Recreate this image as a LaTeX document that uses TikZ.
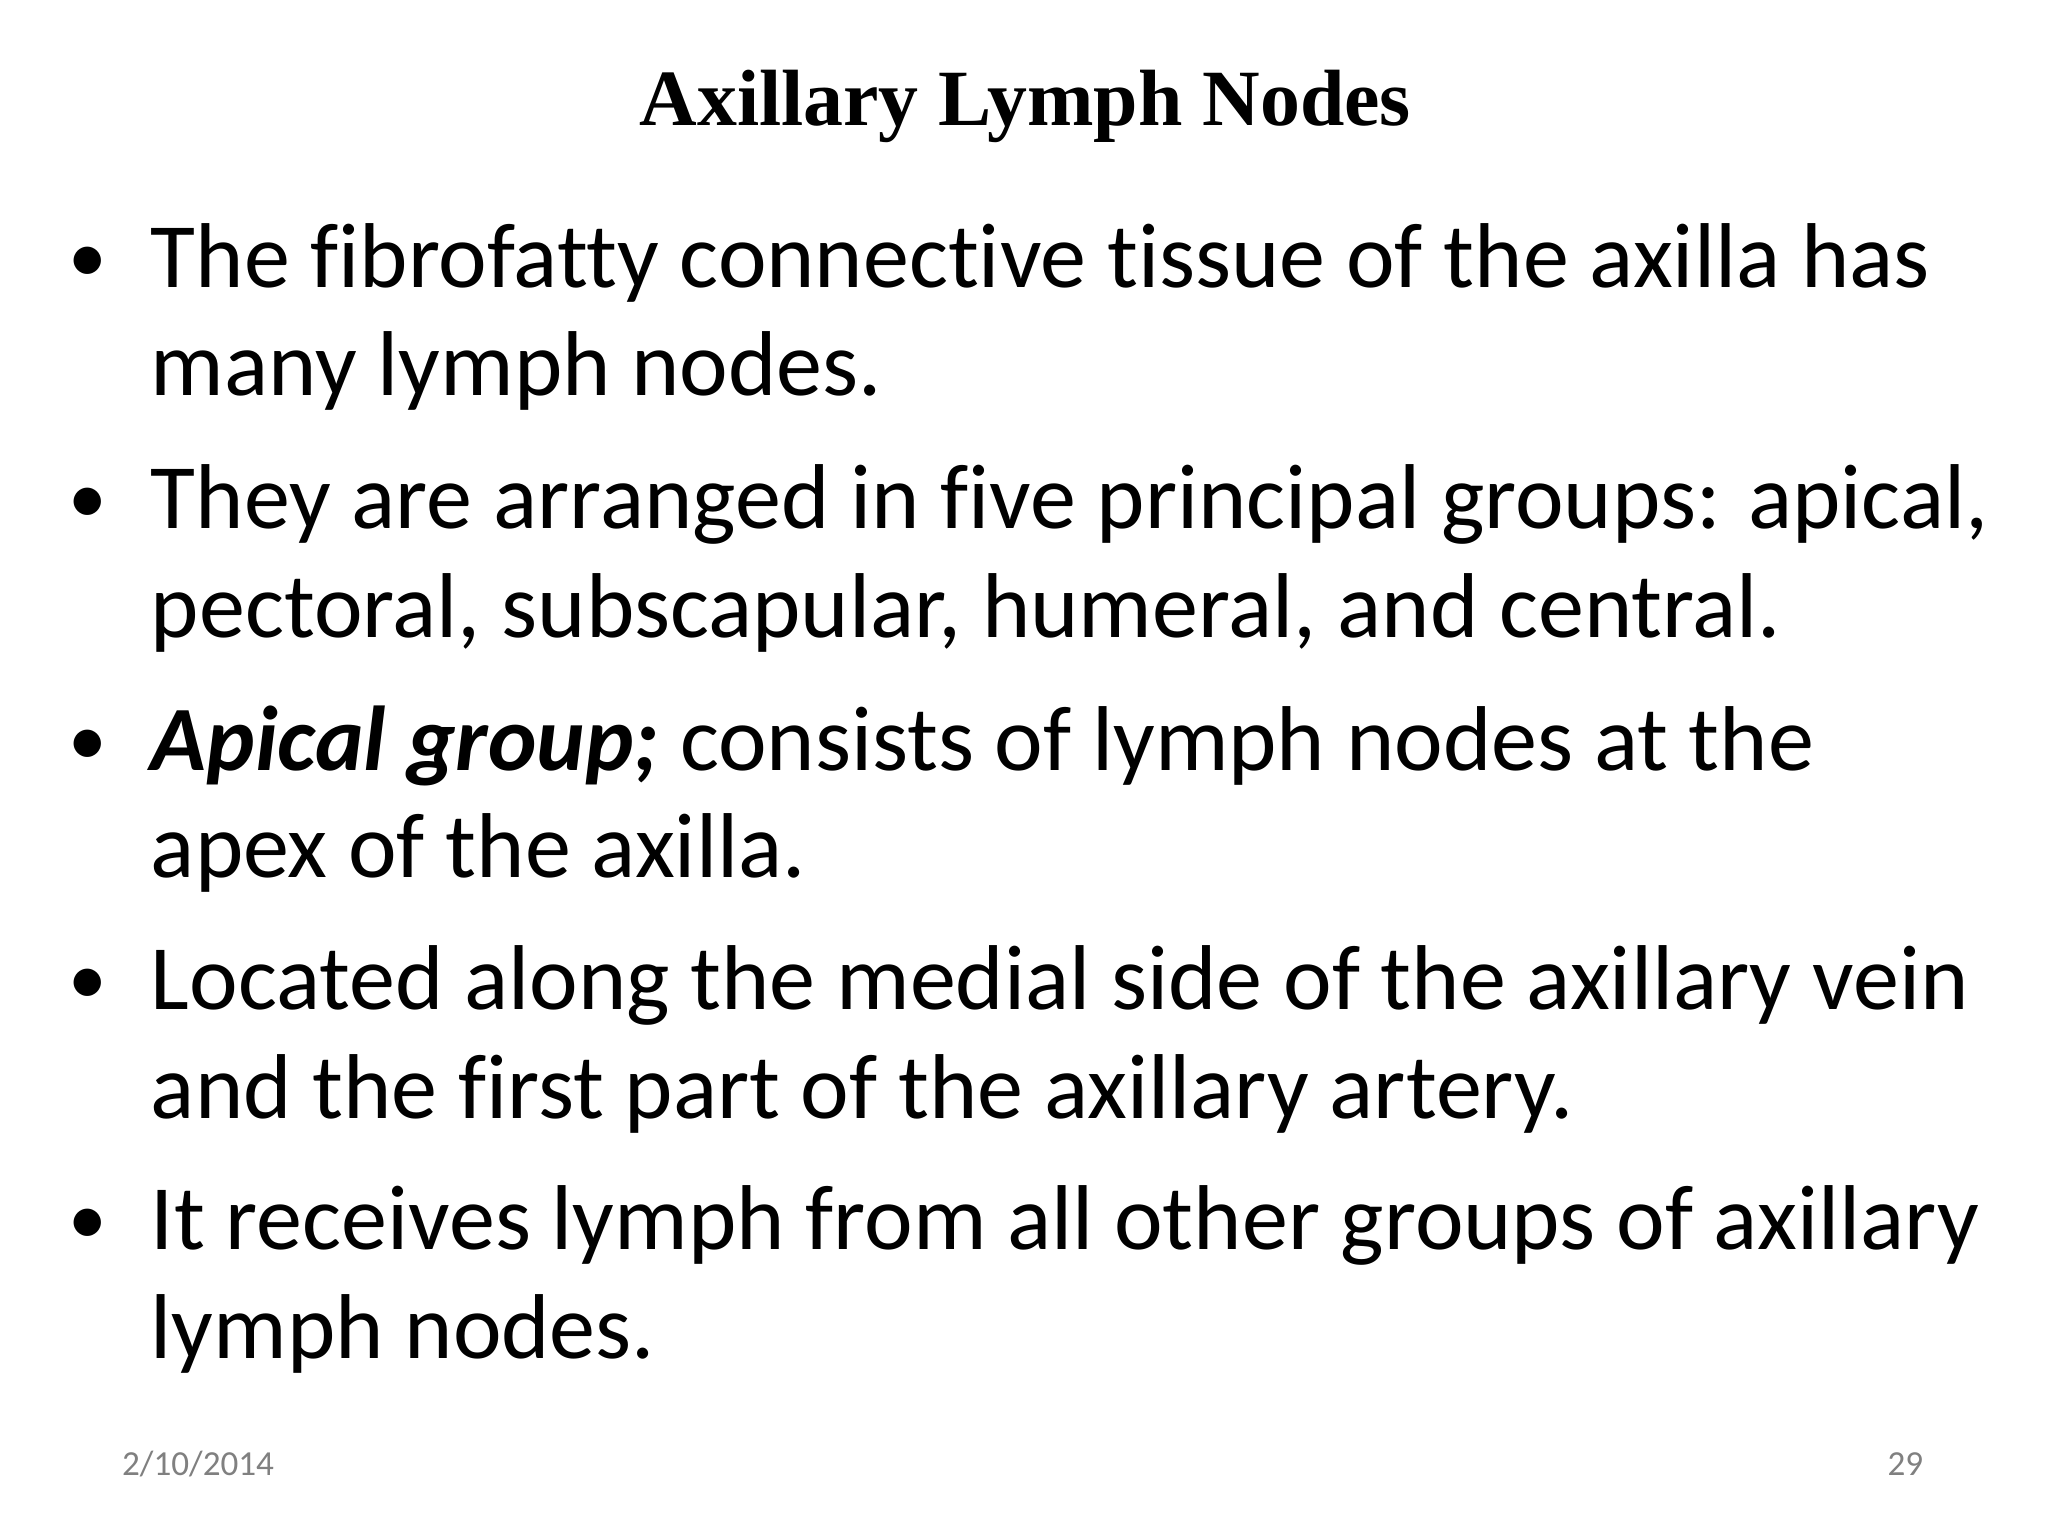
\documentclass[tikz,border=0pt]{standalone}
\usepackage{fontspec}
\setmainfont[Ligatures=NoCommon]{Carlito}
\newfontfamily\titlefont{Liberation Serif}
\begin{document}
\begin{tikzpicture}[x=0.01306cm,y=-0.01306cm,
  body/.style={anchor=base west,inner sep=0pt,font=\fontsize{26.2}{31}\selectfont},
  bul/.style={anchor=base,inner sep=0pt,font=\fontsize{22}{26}\selectfont},
  foot/.style={inner sep=0pt,font=\fontsize{10}{12}\selectfont,text=gray}]
\useasboundingbox[fill=white] (0,0) rectangle (1568,1176);
\node[anchor=base,inner sep=0pt,font=\titlefont\bfseries\fontsize{22.7}{27}\selectfont] (title) at (785,96) {Axillary Lymph Nodes};
\foreach \y/\n in {216/b1,401/b2,586/b3,769/b4,953/b5}
  \node[bul] (\n) at (67,\y) {•};
\node[body] (l1) at (115,220) {The fibrofatty connective tissue of the axilla has};
\node[body] (l2) at (115,303) {many lymph nodes.};
\node[body] (l3) at (115,405) {They are arranged in five principal groups: apical,};
\node[body] (l4) at (115,488) {pectoral, subscapular, humeral, and central.};
\node[body] (l5) at (115,590) {\textbf{\textit{Apical group;}} consists of lymph nodes at the};
\node[body] (l6) at (115,672) {apex of the axilla.};
\node[body] (l7) at (115,773) {Located along the medial side of the axillary vein};
\node[body] (l8) at (115,856) {and the first part of the axillary artery.};
\node[body] (l9) at (115,957) {It receives lymph from all other groups of axillary};
\node[body] (l10) at (115,1040) {lymph nodes.};
\node[foot,anchor=base west] (date) at (93,1130) {2/10/2014};
\node[foot,anchor=base east] (num) at (1473,1130) {29};
\end{tikzpicture}
\end{document}
